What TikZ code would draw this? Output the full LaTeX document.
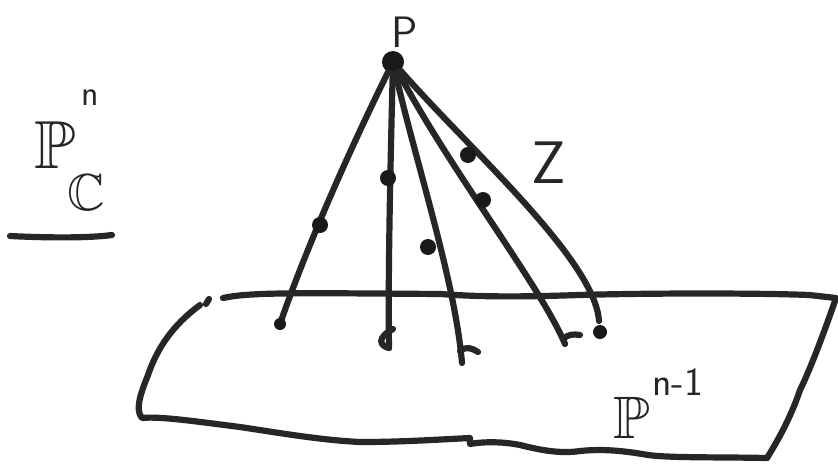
\documentclass[tikz,border=0pt]{standalone}
\usepackage{amssymb}
\begin{document}
\begin{tikzpicture}[x=0.5pt,y=-0.5pt,
  pen/.style={line width=3.1pt,line cap=round,line join=round,draw=black!85},
  dotmark/.style={circle,fill=black!90,inner sep=0pt,minimum size=#1},
  dotmark/.default=9pt,
  lbl/.style={inner sep=0pt,text=black!85}]
\useasboundingbox (0,0) rectangle (838,466);
% apex
\node[dotmark=11pt] (P) at (393,62) {};
\node[lbl,font=\sffamily\fontsize{22}{22}\selectfont] (Plbl) at (405,32) {P};
% end points
\coordinate (e1) at (280,324);
\coordinate (e2) at (389,348);
\coordinate (e3) at (462,363);
\coordinate (e4) at (565,344);
\coordinate (e5) at (599,321);
% lines of the cone
\draw[pen] (P) .. controls (330,190) and (295,280) .. (e1);
\draw[pen] (P) .. controls (390,180) and (388,280) .. (e2);
\draw[pen] (P) .. controls (415,160) and (455,280) .. (e3);
\draw[pen] (P) .. controls (450,170) and (540,285) .. (e4);
\draw[pen] (P) .. controls (470,150) and (595,260) .. (e5);
% end marks
\node[dotmark=6pt] (d1) at (e1) {};
\draw[pen] (e2) .. controls (380,346) and (376,338) .. (393,329);
\draw[pen] (460,351) .. controls (466,346) and (472,348) .. (478,352);
\draw[pen] (563,339) .. controls (568,334) and (574,334) .. (580,335);
\node[dotmark=7pt] (d5) at (600,332) {};
% dots on the lines
\node[dotmark=8pt] (m1) at (320,225) {};
\node[dotmark=8pt] (m2) at (388,178) {};
\node[dotmark=8pt] (m3) at (428,247) {};
\node[dotmark=8pt] (m4) at (483,200) {};
\node[dotmark=8pt] (m5) at (468,155) {};
\node[lbl,font=\sffamily\fontsize{30}{30}\selectfont] (Z) at (549,163) {Z};
% plane
\draw[pen] (209,299) -- (206,304);
\draw[pen] (223,298) .. controls (250,292) and (300,293) .. (441,294)
  .. controls (480,297) and (520,297) .. (579,295)
  .. controls (650,293) and (760,293) .. (809,295) -- (836,298)
  .. controls (825,330) and (810,370) .. (800,390)
  .. controls (790,420) and (775,445) .. (767,458);
\draw[pen] (767,458) .. controls (720,457) and (670,458) .. (648,455)
  .. controls (620,450) and (600,449) .. (580,451)
  .. controls (560,454) and (540,450) .. (520,445)
  .. controls (500,441) and (480,442) .. (470,444) -- (470,438)
  .. controls (430,440) and (400,442) .. (360,442)
  .. controls (320,440) and (280,433) .. (240,427)
  .. controls (200,422) and (160,416) .. (142,418)
  .. controls (135,410) and (140,395) .. (148,375)
  .. controls (160,340) and (180,320) .. (200,305);
% labels
\node[lbl,font=\fontsize{34}{34}\selectfont] (Pn) at (55,145) {$\mathbb{P}$};
\node[lbl,font=\sffamily\fontsize{18}{18}\selectfont] (n) at (90,98) {n};
\node[lbl,font=\fontsize{26}{26}\selectfont] (C) at (86,193) {$\mathbb{C}$};
\coordinate (u1) at (10,236);
\coordinate (u2) at (112,235);
\draw[pen] (u1) .. controls (50,238) and (90,238) .. (u2);
\node[lbl,font=\fontsize{30}{30}\selectfont] (Pm) at (632,418) {$\mathbb{P}$};
\node[lbl,font=\sffamily\fontsize{20}{20}\selectfont,anchor=west] (nm1) at (652,382) {n-1};
\end{tikzpicture}
\end{document}
